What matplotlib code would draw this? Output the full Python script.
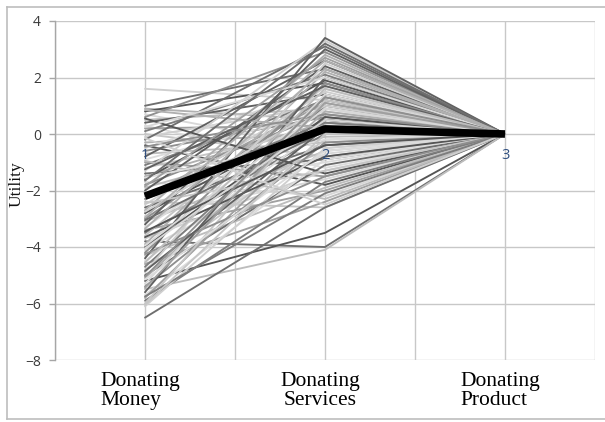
import matplotlib
matplotlib.use("Agg")
import matplotlib.pyplot as plt
from matplotlib.lines import Line2D

# ---- data ----
categories = ["Donating\nMoney", "Donating\nServices", "Donating\nProduct"]
point_labels = ["1", "2", "3"]
positions = [1, 2, 3]

money = [1.6, 1.0, 0.9, 0.8, 0.7, 0.6, 0.5, 0.4, 0.3, 0.2, 0.1, 0.0, -0.1, -0.2,
         -0.3, -0.4, -0.5, -0.6, -0.7, -0.8, -0.9, -1.0, -1.1, -1.2, -1.3, -1.4,
         -1.5, -1.6, -1.7, -1.8, -1.9, -2.0, -2.1, -2.2, -2.3, -2.4, -2.5, -2.6,
         -2.7, -2.8, -2.9, -3.0, -3.1, -3.2, -3.3, -3.4, -3.5, -3.6, -3.7, -3.8,
         -3.9, -4.0, -4.1, -4.2, -4.3, -4.4, -4.5, -4.6, -4.7, -4.8, -4.9, -5.0,
         -5.1, -5.2, -5.3, -5.4, -5.5, -5.6, -5.7, -5.8, -5.9, -6.0, -6.1, -6.5,
         0.85, 0.55, 0.25, -0.45, -0.95, -1.25, -1.55, -1.85, -2.15, -2.45, -2.75,
         -3.05, -3.35, -3.65, -3.95, -4.25, -4.55, -4.85, -5.15, -5.45, -5.75,
         -6.05, -0.15, -1.65, -2.95, -3.45, -4.05, -5.05]
services = [1.2, 2.3, 0.5, 1.8, -0.5, 2.9, 0.9, 1.4, -1.2, 0.3, 2.1, -0.8, 1.0, 3.1,
            0.0, -1.8, 1.6, 0.6, -0.3, 2.6, 0.8, -1.5, 1.2, 0.2, 3.3, -0.9,
            0.4, 1.9, -2.2, 0.7, -0.1, 2.4, -1.0, 1.1, 0.1, -2.6, 1.5, -0.4,
            2.8, 0.5, -1.6, 1.3, -0.6, 3.0, 0.9, -2.0, 0.0, 1.7, -1.3, -4.0,
            2.2, 0.6, -0.7, 1.8, -1.9, 3.4, 0.3, -2.4, 1.0, -0.2, 2.5, -1.1,
            0.8, -3.5, 1.4, -0.3, -4.1, 2.0, -0.9, 0.4, -1.7, 1.2, -0.5, -2.6,
            0.2, -1.4, 2.0, 0.7, -2.3, 1.7, -0.2, 2.7, 0.4, -1.3, 1.0,
            0.1, 2.3, -0.8, 0.9, -1.5, 1.6, 0.2, -0.6, 1.1, -2.1,
            0.0, -2.5, 3.2, 2.6, -0.4, 0.5, 1.3]
product = [0.0] * len(money)

mean_values = [-2.2, 0.18, 0.0]

yticks = [-8, -6, -4, -2, 0, 2, 4]

# ---- figure ----
W, H = 605, 422
fig = plt.figure(figsize=(W / 100, H / 100), dpi=100)
ax = fig.add_axes([55 / W, 1 - 360 / H, 540 / W, 339 / H])

greys = ["#cfcfcf", "#6e6e6e", "#b0b0b0", "#555555", "#d8d8d8", "#8f8f8f",
         "#bdbdbd", "#606060", "#dcdcdc", "#a0a0a0", "#7d7d7d", "#c6c6c6"]

for i, (m, s, p) in enumerate(zip(money, services, product)):
    ax.plot(positions, [m, s, p], color=greys[i % len(greys)], lw=1.35,
            solid_capstyle="round", zorder=2)

ax.plot(positions, mean_values, color="black", lw=5.5, zorder=5,
        solid_capstyle="butt")

for x, lab in zip(positions, point_labels):
    ax.text(x, -0.75, lab, color="#2f4f80", fontsize=10.5, ha="center",
            va="center", family="Open Sans", zorder=6)

ax.set_xlim(0.5, 3.5)
ax.set_ylim(-8, 4)
ax.set_yticks(yticks)
ax.set_xticks([0.5, 1, 1.5, 2, 2.5, 3, 3.5])
ax.set_xticklabels([])
ax.tick_params(axis="x", length=0)
ax.tick_params(axis="y", length=4, width=1, color="#a6a6a6",
               labelcolor="#3a3a3a", labelsize=10, pad=6)
for lab in ax.get_yticklabels():
    lab.set_family("Open Sans")

ax.grid(True, color="#c8c8c8", lw=1.0, zorder=0)
ax.set_axisbelow(True)
for side in ["top", "right", "bottom"]:
    ax.spines[side].set_visible(False)
ax.spines["left"].set_color("#a6a6a6")
ax.spines["left"].set_linewidth(1.0)

ax.set_ylabel("Utility", family="Liberation Serif", fontsize=12.5, color="#111111")
ax.yaxis.set_label_coords(-0.056, 0.52)

# category labels below plot
aligns = ["left", "center", "left"]
for x, cat, al in zip(positions, categories, aligns):
    ax.text(x - 0.025, -0.035, cat, transform=ax.get_xaxis_transform(),
            ha="center", va="top", multialignment=al, fontsize=15.5,
            family="Liberation Serif", color="#000000", linespacing=1.0)

# outer border
bc = "#bdbdbd"
fig.add_artist(Line2D([7 / W, 7 / W], [1 - 7 / H, 1 - 419 / H], color=bc, lw=1.2,
                      transform=fig.transFigure))
fig.add_artist(Line2D([7 / W, 1.0], [1 - 7 / H, 1 - 7 / H], color=bc, lw=1.2,
                      transform=fig.transFigure))
fig.add_artist(Line2D([7 / W, 1.0], [1 - 419 / H, 1 - 419 / H], color=bc, lw=1.2,
                      transform=fig.transFigure))

fig.savefig("out.png", dpi=100)
